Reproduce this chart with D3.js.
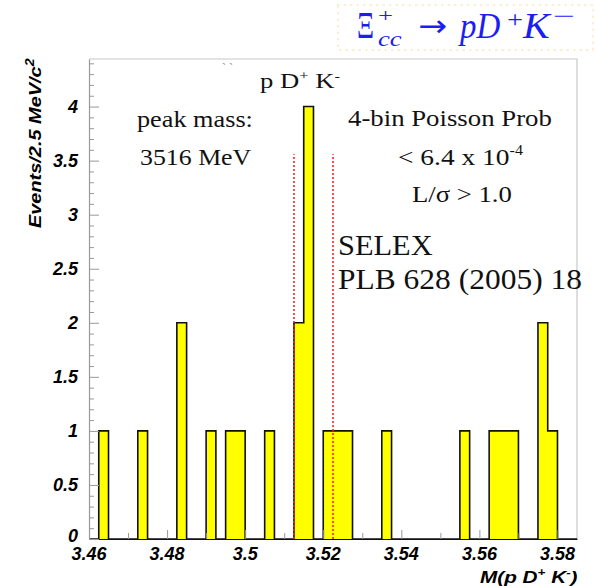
<!DOCTYPE html>
<html>
<head>
<meta charset="utf-8">
<script src="https://cdn.jsdelivr.net/npm/d3@7"></script>
<style>
  body { margin: 0; background: #fff; }
  svg { display: block; }
</style>
</head>
<body>
<div id="chart"></div>
<script>
// histogram: 2.5 MeV bins starting at 3.46 GeV
var binLow = 3.46;
var binWidth = 0.0025;
var counts = [
  0, 1, 0, 0, 0, 1, 0, 0, 0, 2,
  0, 0, 1, 0, 1, 1, 0, 0, 1, 0,
  0, 2, 4, 0, 1, 1, 1, 0, 0, 0,
  1, 0, 0, 0, 0, 0, 0, 0, 1, 0,
  0, 1, 1, 1, 0, 0, 2, 1, 0, 0
];
var xTicks = [3.46, 3.48, 3.5, 3.52, 3.54, 3.56, 3.58];
var xTickLabels = ['3.46', '3.48', '3.5', '3.52', '3.54', '3.56', '3.58'];
var yTicks = [0, 0.5, 1, 1.5, 2, 2.5, 3, 3.5, 4];
var yTickLabels = ['0', '0.5', '1', '1.5', '2', '2.5', '3', '3.5', '4'];
var signalWindow = [3.5125, 3.5225];

var attrs = {
  svgWidth: 596,
  svgHeight: 586,
  left: 89,
  right: 577,
  top: 59,
  bottom: 539
};

var svg = d3.select('#chart').append('svg')
  .attr('width', attrs.svgWidth)
  .attr('height', attrs.svgHeight);

// stretch a text horizontally so it spans x0..x1 (extra transform optional)
function fit(sel, x0, x1, pre) {
  var w = sel.node().getBBox().width;
  var s = (x1 - x0) / w;
  sel.attr('transform', (pre || '') + 'translate(' + x0 + ',0) scale(' + s + ',1) translate(' + (-x0) + ',0)');
  return sel;
}

// scales
var x = d3.scaleLinear().domain([3.46, 3.585]).range([attrs.left, attrs.right]);
var y = d3.scaleLinear().domain([0, 4.44]).range([attrs.bottom, attrs.top]);

// histogram points (one per bin low edge, plus closing edge)
var pts = counts.map(function (c, i) { return { x: binLow + i * binWidth, v: c }; });
pts.push({ x: binLow + counts.length * binWidth, v: 0 });

var area = d3.area().curve(d3.curveStepAfter)
  .x(function (d) { return x(d.x); })
  .y0(y(0))
  .y1(function (d) { return y(d.v); });
var line = d3.line().curve(d3.curveStepAfter)
  .x(function (d) { return x(d.x); })
  .y(function (d) { return y(d.v); });

// frame (top & right light gray)
svg.append('path')
  .attr('d', 'M' + attrs.left + ',' + attrs.top + 'H' + attrs.right + 'V' + attrs.bottom)
  .attr('fill', 'none').attr('stroke', '#c8c8c8').attr('stroke-width', 1.2);

svg.append('path').datum(pts)
  .attr('d', area)
  .attr('fill', '#ffff00');
svg.append('path').datum(pts)
  .attr('d', line)
  .attr('fill', 'none')
  .attr('stroke', '#111')
  .attr('stroke-width', 1.6);

// signal window
svg.selectAll('.win').data(signalWindow).enter().append('line')
  .attr('class', 'win')
  .attr('x1', function (d) { return x(d); })
  .attr('x2', function (d) { return x(d); })
  .attr('y1', y(0))
  .attr('y2', y(3.56))
  .attr('stroke', '#ff2020')
  .attr('stroke-width', 1.6)
  .attr('stroke-dasharray', '2,2');

// axes
var axisFont = "'Liberation Sans', Arial, sans-serif";
var bottomAxis = d3.axisBottom(x)
  .tickValues(d3.range(3.46, 3.5851, 0.01))
  .tickFormat('')
  .tickSizeInner(-6).tickSizeOuter(0);
var gx = svg.append('g').attr('transform', 'translate(0,' + attrs.bottom + ')').call(bottomAxis);
gx.select('.domain').attr('stroke', '#111').attr('stroke-width', 1.2);
gx.selectAll('.tick line').attr('stroke', '#999')
  .attr('y2', function (d, i) { return i % 2 === 0 ? -9 : -6; });

svg.selectAll('.xlab').data(xTicks).enter().append('text')
  .attr('class', 'xlab')
  .attr('x', function (d) { return x(d); })
  .attr('y', 560)
  .attr('text-anchor', 'middle')
  .style('font', 'italic bold 18px ' + axisFont)
  .text(function (d, i) { return xTickLabels[i]; });

var leftAxis = d3.axisLeft(y)
  .tickValues(d3.range(0, 4.41, 0.1))
  .tickFormat('')
  .tickSizeInner(-5).tickSizeOuter(0);
var gy = svg.append('g').attr('transform', 'translate(' + attrs.left + ',0)').call(leftAxis);
gy.select('.domain').attr('stroke', '#999').attr('stroke-width', 1.2);
gy.selectAll('.tick line').attr('stroke', '#999')
  .attr('x2', function (d, i) { return i % 5 === 0 ? 10 : 5; });

svg.selectAll('.ylab').data(yTicks).enter().append('text')
  .attr('class', 'ylab')
  .attr('x', 78)
  .attr('y', function (d) { return y(d) + (d === 0 ? 3 : 6); })
  .attr('text-anchor', 'end')
  .style('font', 'italic bold 18px ' + axisFont)
  .text(function (d, i) { return yTickLabels[i]; });

// axis titles
var yTitle = svg.append('text')
  .attr('x', 0).attr('y', 0)
  .style('font', 'italic bold 17px ' + axisFont);
yTitle.append('tspan').text('Events/2.5 MeV/c');
yTitle.append('tspan').attr('dy', -7).style('font-size', '12px').text('2');
// rotated: text runs from y=228 (start) up to y=58 (end)
fit(yTitle, 0, 170, 'translate(41,228) rotate(-90) ');

var xTitle = svg.append('text')
  .attr('x', 480).attr('y', 583)
  .style('font', 'italic bold 17px ' + axisFont);
xTitle.append('tspan').text('M(p D');
xTitle.append('tspan').attr('dy', -7).style('font-size', '11px').text('+');
xTitle.append('tspan').attr('dy', 7).text(' K');
xTitle.append('tspan').attr('dy', -7).style('font-size', '11px').text('-');
xTitle.append('tspan').attr('dy', 7).text(')');
fit(xTitle, 480, 578);

// annotations (Times-like)
var serif = "'Liberation Serif', 'Times New Roman', serif";
function note(xp, yp, size) {
  return svg.append('text').attr('x', xp).attr('y', yp)
    .style('font-family', serif).style('font-size', size + 'px').attr('fill', '#111');
}
note(222, 72, 12).attr('fill', '#888').text('`  `');
var t1 = note(260, 88, 21);
t1.append('tspan').text('p D');
t1.append('tspan').attr('dy', -8).style('font-size', '13px').text('+');
t1.append('tspan').attr('dy', 8).text(' K');
t1.append('tspan').attr('dy', -8).style('font-size', '13px').text('-');
fit(t1, 260, 340);

fit(note(137, 127, 24).text('peak mass:'), 137, 253);
fit(note(140, 165, 24).text('3516 MeV'), 140, 252);
fit(note(348, 126, 24).text('4-bin Poisson Prob'), 348, 552);
var t2 = note(398, 165, 24);
t2.append('tspan').text('< 6.4 x 10');
t2.append('tspan').attr('dy', -10).style('font-size', '14px').text('-4');
fit(t2, 398, 523);
fit(note(412, 202, 24).text('L/\u03c3 > 1.0'), 412, 512);
fit(note(338, 255, 30).text('SELEX'), 338, 433);
fit(note(338, 289, 30).text('PLB 628 (2005) 18'), 338, 582);

// title box
svg.append('rect')
  .attr('x', 338).attr('y', 5).attr('width', 255).attr('height', 45)
  .attr('fill', 'none').attr('stroke', '#fdebc8').attr('stroke-width', 2)
  .attr('stroke-linecap', 'round').attr('stroke-dasharray', '0.5,6');

var blue = '#1c1cf5';
var mathFont = "'Liberation Serif', 'DejaVu Serif', serif";
function mt(xp, yp, size, italic, x1) {
  var t = svg.append('text').attr('x', xp).attr('y', yp)
    .style('font-family', mathFont).style('font-size', size + 'px')
    .style('font-style', italic ? 'italic' : 'normal')
    .attr('fill', blue);
  t.fitTo = function (txt) { t.text(txt); return fit(t, xp, x1); };
  return t;
}
mt(357, 38, 38, false, 374).fitTo('\u039e');
mt(378, 22, 18, false, 393).fitTo('+');
mt(378, 46, 22, true, 402).fitTo('cc');
mt(418, 36, 30, false, 447).style('font-family', "'DejaVu Sans', sans-serif").fitTo('\u2192');
mt(460, 38, 36, true, 503).fitTo('pD');
mt(507, 27, 24, false, 523).fitTo('+');
mt(523, 38, 36, true, 553).fitTo('K');
mt(553, 24, 24, false, 575).fitTo('\u2212');
</script>
</body>
</html>
